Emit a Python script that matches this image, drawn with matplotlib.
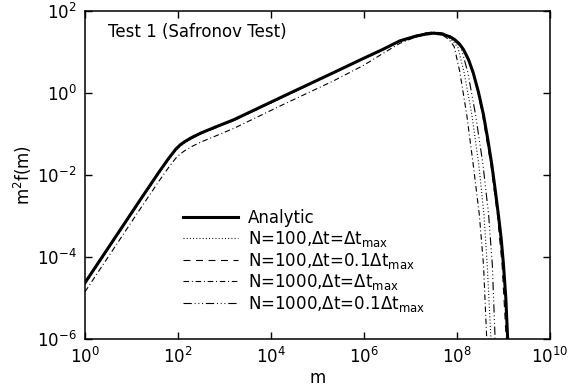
import matplotlib
matplotlib.use('Agg')
import matplotlib.pyplot as plt
import numpy as np

plt.rcParams['font.family'] = ['DejaVu Sans']
plt.rcParams['mathtext.fontset'] = 'dejavusans'
plt.rcParams['lines.scale_dashes'] = False

# values, as log10(m) and log10(m^2 f(m))
analytic_logm = [0.0, 0.4, 0.8, 1.2, 1.6, 1.8, 1.95, 2.05, 2.15, 2.3, 2.5, 2.8,
                 3.2, 4.28, 5.35, 6.0, 6.4, 6.77, 7.1, 7.3, 7.5, 7.7, 7.85,
                 7.95, 8.05, 8.14, 8.25, 8.35, 8.46, 8.57, 8.66, 8.75, 8.82,
                 8.89, 8.95, 9.0, 9.05, 9.09, 9.11]
analytic_logy = [-4.63, -3.95, -3.27, -2.59, -1.92, -1.6, -1.38, -1.27, -1.19,
                 -1.09, -0.98, -0.84, -0.66, -0.08, 0.49, 0.84, 1.05, 1.26,
                 1.37, 1.42, 1.45, 1.42, 1.36, 1.29, 1.19, 1.05, 0.8, 0.48,
                 0.02, -0.54, -1.12, -1.76, -2.35, -2.97, -3.55, -4.19, -5.0,
                 -6.0, -6.5]

# N=100, dt=dt_max (dotted)
n100_max_logm = [0.0, 0.4, 0.8, 1.2, 1.6, 1.8, 1.95, 2.05, 2.15, 2.3, 2.5, 2.8,
                 3.2, 4.28, 5.35, 6.0, 6.4, 6.77, 7.1, 7.3, 7.5, 7.65, 7.78,
                 7.9, 8.02, 8.15, 8.32, 8.47, 8.58, 8.65, 8.73, 8.76]
n100_max_logy = [-4.66, -3.98, -3.3, -2.62, -1.95, -1.63, -1.41, -1.3, -1.22,
                 -1.12, -1.0, -0.86, -0.68, -0.1, 0.48, 0.83, 1.05, 1.27,
                 1.39, 1.45, 1.47, 1.44, 1.37, 1.27, 1.1, 0.51, -0.54, -1.76,
                 -2.97, -4.19, -6.0, -6.5]

# N=100, dt=0.1 dt_max (dashed)
n100_01_logm = [0.0, 0.4, 0.8, 1.2, 1.6, 1.8, 1.95, 2.05, 2.15, 2.3, 2.5, 2.8,
                3.2, 4.28, 5.35, 6.0, 6.4, 6.77, 7.1, 7.3, 7.5, 7.7, 7.85,
                7.95, 8.04, 8.13, 8.24, 8.34, 8.45, 8.55, 8.73, 8.87, 8.97,
                9.06, 9.08]
n100_01_logy = [-4.64, -3.96, -3.28, -2.6, -1.93, -1.61, -1.39, -1.28, -1.2,
                -1.1, -0.99, -0.85, -0.67, -0.09, 0.49, 0.84, 1.05, 1.27,
                1.39, 1.45, 1.48, 1.45, 1.38, 1.31, 1.2, 1.06, 0.8, 0.48,
                0.02, -0.54, -1.76, -2.97, -4.19, -6.0, -6.5]

# N=1000, dt=dt_max (dash-dot)
n1000_max_logm = [0.0, 0.4, 0.8, 1.2, 1.6, 1.8, 1.95, 2.05, 2.15, 2.3, 2.5, 2.8,
                  3.2, 4.28, 5.35, 6.0, 6.4, 6.77, 7.1, 7.42, 7.6, 7.72, 7.84,
                  7.94, 8.06, 8.21, 8.35, 8.48, 8.57, 8.64, 8.67]
n1000_max_logy = [-4.85, -4.17, -3.49, -2.81, -2.14, -1.82, -1.6, -1.49, -1.41,
                  -1.31, -1.2, -1.06, -0.87, -0.28, 0.29, 0.67, 0.95, 1.2,
                  1.35, 1.44, 1.43, 1.38, 1.28, 1.12, 0.51, -0.54, -1.76,
                  -2.97, -4.19, -6.0, -6.5]

# N=1000, dt=0.1 dt_max (dash-dot-dot-dot)
n1000_01_logm = [0.0, 0.4, 0.8, 1.2, 1.6, 1.8, 1.95, 2.05, 2.15, 2.3, 2.5, 2.8,
                 3.2, 4.28, 5.35, 6.0, 6.4, 6.77, 7.1, 7.3, 7.5, 7.68, 7.82,
                 7.96, 8.08, 8.23, 8.4, 8.56, 8.68, 8.76, 8.82, 8.85]
n1000_01_logy = [-4.65, -3.97, -3.29, -2.61, -1.94, -1.62, -1.4, -1.29, -1.21,
                 -1.11, -1.0, -0.86, -0.68, -0.1, 0.48, 0.83, 1.04, 1.26,
                 1.38, 1.44, 1.46, 1.44, 1.36, 1.25, 1.12, 0.51, -0.54, -1.76,
                 -2.97, -4.19, -6.0, -6.5]

labels = ['Analytic',
          r'N=100,$\Delta$t=$\Delta$t$_{\rm max}$',
          r'N=100,$\Delta$t=0.1$\Delta$t$_{\rm max}$',
          r'N=1000,$\Delta$t=$\Delta$t$_{\rm max}$',
          r'N=1000,$\Delta$t=0.1$\Delta$t$_{\rm max}$']

xticks = [1e0, 1e2, 1e4, 1e6, 1e8, 1e10]
yticks = [1e-6, 1e-4, 1e-2, 1e0, 1e2]

fig = plt.figure(figsize=(5.72, 3.88), dpi=100)
ax = fig.add_axes([0.1486, 0.1263, 0.8129, 0.8466])

def p(lm, ly):
    return 10.0 ** np.array(lm), 10.0 ** np.array(ly)

ax.plot(*p(analytic_logm, analytic_logy), color='black', lw=2.2, label=labels[0])
ax.plot(*p(n100_max_logm, n100_max_logy), color='black', lw=0.8,
        dashes=(0.7, 1.6), label=labels[1])
ax.plot(*p(n100_01_logm, n100_01_logy), color='black', lw=0.8,
        dashes=(5, 4), label=labels[2])
ax.plot(*p(n1000_max_logm, n1000_max_logy), color='black', lw=0.8,
        dashes=(4, 2, 0.7, 2), label=labels[3])
ax.plot(*p(n1000_01_logm, n1000_01_logy), color='black', lw=0.8,
        dashes=(6, 2, 0.7, 2, 0.7, 2, 0.7, 2), label=labels[4])

ax.set_xscale('log')
ax.set_yscale('log')
ax.set_xlim(1e0, 1e10)
ax.set_ylim(1e-6, 1e2)
ax.set_xticks(xticks)
ax.set_yticks(yticks)
ax.minorticks_off()
ax.tick_params(direction='in', top=True, right=True, length=5, width=1,
               labelsize=12, pad=6)
for s in ax.spines.values():
    s.set_linewidth(1.1)

ax.set_xlabel('m', fontsize=12, labelpad=1)
ax.set_ylabel('m$^2$f(m)', fontsize=12, labelpad=2)

ax.text(0.049, 0.936, 'Test 1 (Safronov Test)', transform=ax.transAxes,
        fontsize=12, va='center', ha='left')

ax.legend(loc='upper left', bbox_to_anchor=(0.211, 0.395), frameon=False,
          fontsize=12, handlelength=3.3, handletextpad=0.6, labelspacing=0.1,
          borderpad=0, borderaxespad=0)

fig.savefig('out.png', dpi=100)
